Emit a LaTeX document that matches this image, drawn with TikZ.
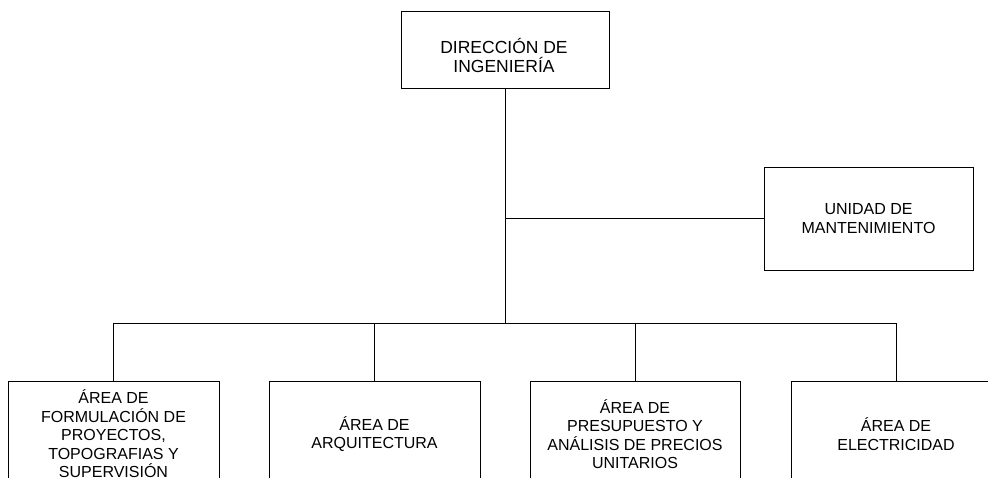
\documentclass[tikz,border=0pt]{standalone}
\usepackage{fontspec}
\setmainfont{Liberation Sans}
\begin{document}
\begin{tikzpicture}[x=1pt,y=-1pt,
  box/.style={draw, line width=0.9pt, align=center, inner sep=0pt,
    font=\fontsize{16}{18.5}\selectfont},
  toptext/.style={align=center, inner sep=0pt, font=\fontsize{17.5}{19.4}\selectfont},
  conn/.style={line width=0.9pt}]
\useasboundingbox (0,0) rectangle (988,478);
\clip (0,0) rectangle (988,478);
\node[box, minimum width=208pt, minimum height=77pt] (dir) at (505,49.5) {};
\node[toptext] (dirt) at (504,55.5) {DIRECCIÓN DE\\INGENIERÍA};
\node[box, minimum width=209pt, minimum height=103pt] (uni) at (868.5,218.5) {UNIDAD DE\\MANTENIMIENTO};
\node[box, minimum width=211pt, minimum height=106pt] (a1) at (113.5,434) {ÁREA DE\\FORMULACIÓN DE\\PROYECTOS,\\TOPOGRAFIAS Y\\SUPERVISIÓN};
\node[box, minimum width=211pt, minimum height=106pt] (a2) at (374.5,434) {ÁREA DE\\ARQUITECTURA};
\node[box, minimum width=210pt, minimum height=106pt] (a3) at (635,434) {ÁREA DE\\PRESUPUESTO Y\\ANÁLISIS DE PRECIOS\\UNITARIOS};
\node[box, minimum width=210pt, minimum height=106pt] (a4) at (896,434) {ÁREA DE\\ELECTRICIDAD};
\coordinate (bus) at (505,323);
\draw[conn] (dir.south) -- (bus);
\draw[conn] (dir.south |- uni.west) -- (uni.west);
\draw[conn] (a1.north) -- (a1.north |- bus) -- (a4.north |- bus) -- (a4.north);
\draw[conn] (a2.north) -- (a2.north |- bus);
\draw[conn] (a3.north) -- (a3.north |- bus);
\end{tikzpicture}
\end{document}
